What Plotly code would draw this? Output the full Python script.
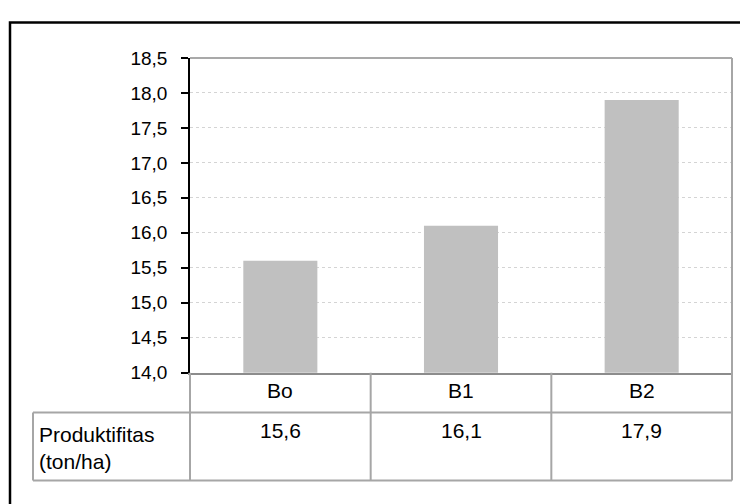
import plotly.graph_objects as go

# Data
categories = ["Bo", "B1", "B2"]
produktifitas = [15.6, 16.1, 17.9]
row_label = "Produktifitas<br>(ton/ha)"
y_ticks = [14.0, 14.5, 15.0, 15.5, 16.0, 16.5, 17.0, 17.5, 18.0, 18.5]

W, H = 740, 504
FONT = "Liberation Sans, Arial, sans-serif"
GRID = "#A6A6A6"


def px_x(px):
    return px / W


def px_y(py):
    return 1 - py / H


def fmt(v):
    return f"{v:.1f}".replace(".", ",")


# plot area in pixels
X0, X1 = 190, 732
Y_TOP, Y_BOT = 50, 378.5
# data-table rows
ROW1_BOT = 420
ROW2_BOT = 491
LABEL_LEFT = 33

fig = go.Figure()
fig.add_trace(go.Bar(
    x=categories, y=produktifitas, width=0.41,
    marker=dict(color="#C0C0C0", line=dict(width=0)),
    hoverinfo="skip", showlegend=False,
))

shapes = []
# plot frame: top and right sides
shapes.append(dict(type="line", xref="paper", yref="paper",
                   x0=px_x(X0), x1=px_x(X1), y0=px_y(Y_TOP), y1=px_y(Y_TOP),
                   line=dict(color="#8C8C8C", width=1.5)))
shapes.append(dict(type="line", xref="paper", yref="paper",
                   x0=px_x(X1), x1=px_x(X1), y0=px_y(Y_TOP), y1=px_y(ROW2_BOT),
                   line=dict(color=GRID, width=2)))
# data table grid
shapes.append(dict(type="line", xref="paper", yref="paper",
                   x0=px_x(LABEL_LEFT), x1=px_x(X1), y0=px_y(ROW1_BOT), y1=px_y(ROW1_BOT),
                   line=dict(color=GRID, width=2)))
shapes.append(dict(type="line", xref="paper", yref="paper",
                   x0=px_x(LABEL_LEFT), x1=px_x(X1), y0=px_y(ROW2_BOT), y1=px_y(ROW2_BOT),
                   line=dict(color=GRID, width=2)))
shapes.append(dict(type="line", xref="paper", yref="paper",
                   x0=px_x(LABEL_LEFT), x1=px_x(LABEL_LEFT), y0=px_y(ROW1_BOT), y1=px_y(ROW2_BOT),
                   line=dict(color=GRID, width=2)))
shapes.append(dict(type="line", xref="paper", yref="paper",
                   x0=px_x(X0), x1=px_x(X0), y0=px_y(Y_BOT), y1=px_y(ROW2_BOT),
                   line=dict(color=GRID, width=2)))
for i in range(1, len(categories)):
    shapes.append(dict(type="line", xref="x", yref="paper",
                       x0=i - 0.5, x1=i - 0.5, y0=px_y(Y_BOT), y1=px_y(ROW2_BOT),
                       line=dict(color=GRID, width=2)))
# outer chart border
shapes.append(dict(type="rect", xref="paper", yref="paper",
                   x0=px_x(10), x1=1.05, y0=-0.05, y1=px_y(13),
                   line=dict(color="black", width=2.5)))

annotations = []
for c, v in zip(categories, produktifitas):
    annotations.append(dict(x=c, xref="x", y=px_y(397), yref="paper",
                            text=c, showarrow=False, xanchor="center", yanchor="middle",
                            font=dict(family=FONT, size=21, color="black")))
    annotations.append(dict(x=c, xref="x", y=px_y(439), yref="paper",
                            text=fmt(v), showarrow=False, xanchor="center", yanchor="middle",
                            font=dict(family=FONT, size=21, color="black")))
annotations.append(dict(x=px_x(37), xref="paper", y=px_y(457), yref="paper",
                        text=row_label, showarrow=False, xanchor="left", yanchor="middle",
                        align="left", font=dict(family=FONT, size=21, color="black")))

fig.update_layout(
    width=W, height=H,
    margin=dict(l=0, r=0, t=0, b=0),
    paper_bgcolor="white", plot_bgcolor="white",
    shapes=shapes,
    annotations=annotations,
    xaxis=dict(
        domain=[px_x(X0), px_x(X1)],
        showticklabels=False, ticks="",
        showgrid=False, zeroline=False,
        showline=True, linecolor="#8C8C8C", linewidth=2,
        range=[-0.5, 2.5],
    ),
    yaxis=dict(
        domain=[px_y(Y_BOT), px_y(Y_TOP)],
        range=[14.0, 18.5],
        tickvals=y_ticks,
        ticktext=[fmt(t) for t in y_ticks],
        ticks="outside", ticklen=7, tickwidth=1.5, tickcolor="black",
        ticklabelstandoff=10,
        showline=True, linecolor="black", linewidth=1.5,
        showgrid=True, gridcolor="#D4D4D4", gridwidth=1, griddash="dot",
        zeroline=False,
        tickfont=dict(family=FONT, size=19, color="black"),
    ),
)

fig.write_html("out.html")
